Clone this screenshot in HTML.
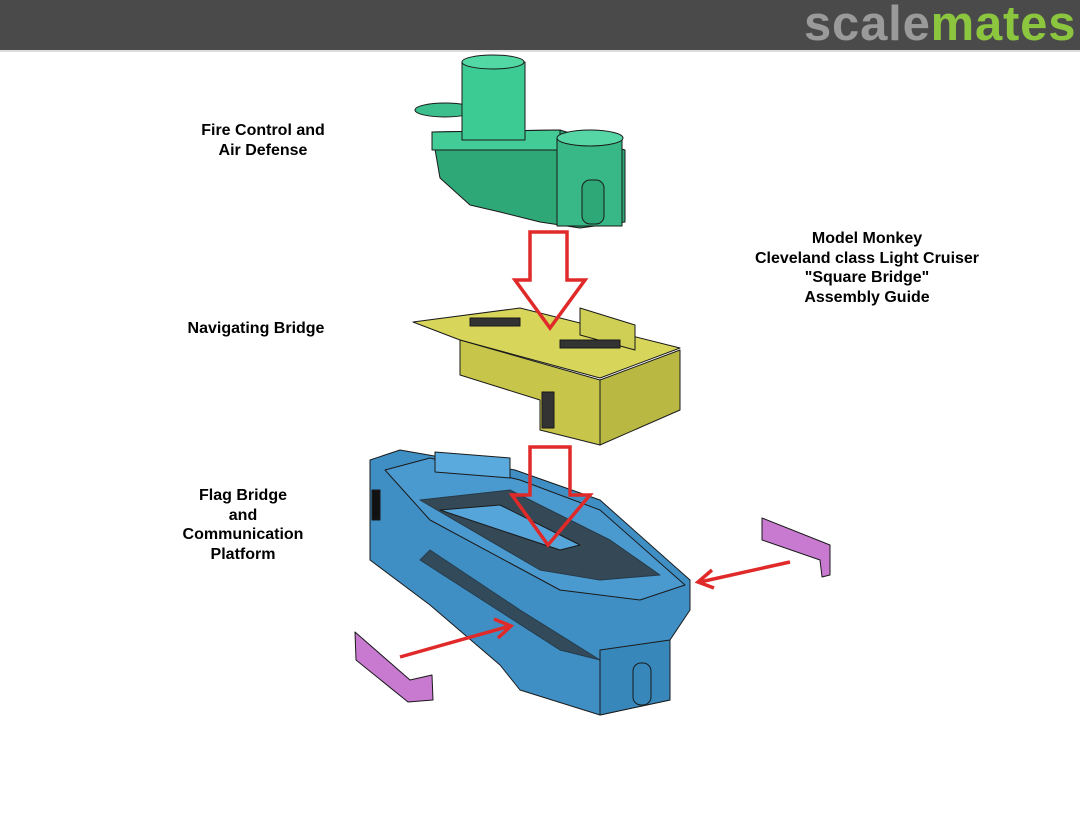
<!DOCTYPE html>
<html><head><meta charset="utf-8"><style>
body{margin:0;width:1080px;height:824px;background:#fff;overflow:hidden;position:relative;font-family:"Liberation Sans",sans-serif}
.hdr{position:absolute;left:0;top:0;width:1080px;height:50px;background:#4a4a4a;border-bottom:2px solid #ddd}
.logo{position:absolute;left:804px;top:-4px;font-size:49px;font-weight:bold;letter-spacing:0.8px}
.lbl{position:absolute;font-weight:bold;font-size:16px;text-align:center;line-height:19.5px;color:#000}
svg{position:absolute;left:0;top:0}
</style></head><body>
<div class="hdr"><div class="logo"><span style="color:#9a9a9a">scale</span><span style="color:#8cc63f">mates</span></div></div>
<svg width="1080" height="824" viewBox="0 0 1080 824">
<g stroke="#1a1a1a" stroke-width="1" stroke-linejoin="round">
<ellipse cx="445" cy="110" rx="30" ry="7" fill="#3cbf8c"/>
<polygon points="432,132 560,130 625,150 625,222 580,228 540,222 500,212 470,205 440,178" fill="#2fa878"/>
<polygon points="432,132 560,130 560,150 432,150" fill="#43cc96"/>
<rect x="462" y="62" width="63" height="78" fill="#3ccb92"/>
<ellipse cx="493" cy="62" rx="31" ry="7" fill="#52d8a2"/>
<rect x="557" y="138" width="65" height="88" fill="#37b886"/>
<ellipse cx="590" cy="138" rx="33" ry="8" fill="#55d6a4"/>
<rect x="582" y="180" width="22" height="44" rx="8" fill="#2fa878"/>
<polygon points="413,322 520,308 680,348 600,378 460,340" fill="#d7d65a"/>
<polygon points="460,340 600,380 600,445 540,430 540,400 460,375" fill="#c7c54a"/>
<polygon points="600,380 680,350 680,410 600,445" fill="#b9b842"/>
<polygon points="580,308 635,325 635,350 580,335" fill="#cfcf56"/>
<rect x="470" y="318" width="50" height="8" fill="#333"/>
<rect x="560" y="340" width="60" height="8" fill="#333"/>
<rect x="542" y="392" width="12" height="36" fill="#333"/>
<polygon points="370,460 400,450 515,470 600,500 690,580 690,610 670,640 670,700 600,715 520,690 500,665 430,605 370,560" fill="#3f8fc4"/>
<polygon points="385,470 430,458 520,480 600,510 685,585 640,600 560,590 430,520" fill="#4a9ad0"/>
<polygon points="420,500 510,490 610,540 660,575 600,580 540,570" fill="#2d2d2d" opacity=".75"/>
<polygon points="440,510 500,505 580,545 560,550" fill="#56a5da"/>
<polygon points="430,550 520,610 600,660 560,650 420,560" fill="#2d2d2d" opacity=".7"/>
<polygon points="435,452 510,458 510,478 435,472" fill="#5aaade"/>
<polygon points="600,650 670,640 670,700 600,715" fill="#3787bb"/>
<rect x="633" y="663" width="18" height="42" rx="8" fill="#3787bb"/>
<rect x="372" y="490" width="8" height="30" fill="#111"/>
<polygon points="355,632 410,680 432,675 433,700 408,702 356,660" fill="#c77ad0"/>
<polygon points="762,518 830,545 830,575 822,577 820,560 762,540" fill="#c77ad0"/>
</g>
<g fill="none" stroke="#e02a2a" stroke-width="3.5" stroke-linejoin="miter">
<polygon points="530,232 567,232 567,280 585,280 550,328 515,280 530,280"/>
<polygon points="530,447 570,447 570,495 590,495 548,545 512,495 530,495"/>
<line x1="790" y1="562" x2="700" y2="582"/>
<polyline points="712,570 698,582 714,588"/>
<line x1="400" y1="657" x2="510" y2="626"/>
<polyline points="494,619 511,626 498,638"/>
</g>
</svg>
<div class="lbl" style="left:183px;top:121px;width:160px">Fire Control and<br>Air Defense</div>
<div class="lbl" style="left:170px;top:319px;width:172px">Navigating Bridge</div>
<div class="lbl" style="left:160px;top:486px;width:166px">Flag Bridge<br>and<br>Communication<br>Platform</div>
<div class="lbl" style="left:727px;top:229px;width:280px">Model Monkey<br>Cleveland class Light Cruiser<br>"Square Bridge"<br>Assembly Guide</div>
</body></html>
